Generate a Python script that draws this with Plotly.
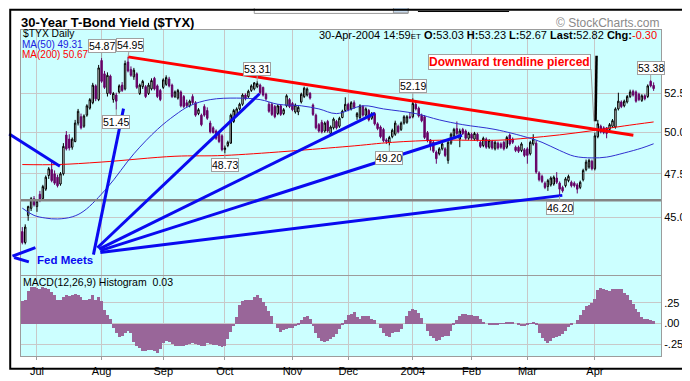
import math
import plotly.graph_objects as go

# ---------------- data ----------------
# trading-day index: 0 = 1-Jul-2003, -5 = 24-Jun-2003, 210 = 30-Apr-2004
day_index = list(range(-5, 211))

open_ = [
    44.20, 43.60, 45.10, 45.50, 46.05, 45.60, 46.30, 46.05, 46.60, 47.40,
    47.75, 47.50, 47.30, 46.90, 47.50, 49.85, 49.60, 49.10, 49.45, 50.60,
    51.00, 50.40, 51.10, 51.55, 51.90, 53.00, 52.10, 54.70, 53.80, 52.50,
    53.65, 52.10, 52.40, 52.60, 53.05, 52.80, 54.60, 54.10, 53.60, 53.80,
    52.50, 52.95, 52.95, 52.50, 52.80, 53.50, 53.00, 52.70, 52.90, 53.10,
    53.45, 53.05, 52.30, 52.20, 52.60, 52.30, 51.90, 51.70, 52.30, 51.90,
    51.20, 51.10, 51.65, 51.40, 50.60, 50.30, 50.10, 49.95, 49.80, 48.95,
    49.20, 49.35, 50.70, 51.10, 51.50, 51.80, 52.40, 52.30, 52.70, 52.80,
    52.95, 53.05, 52.90, 52.45, 51.80, 51.80, 51.65, 51.20, 51.70, 51.20,
    51.70, 52.10, 51.85, 51.30, 51.30, 51.95, 52.30, 52.40, 52.50, 51.75,
    51.10, 50.50, 50.65, 50.10, 50.70, 49.95, 50.30, 50.70, 50.40, 50.95,
    51.40, 51.80, 51.50, 51.90, 51.00, 50.95, 51.65, 51.10, 51.40, 50.90,
    51.20, 50.55, 50.35, 50.20, 49.55, 49.40, 49.75, 49.90, 50.40, 50.20,
    50.60, 50.65, 51.00, 51.00, 51.80, 51.55, 51.10, 51.00, 50.00, 49.55,
    49.40, 48.80, 48.70, 49.00, 49.00, 48.30, 49.35, 49.80, 50.25, 49.60,
    50.20, 50.10, 49.65, 49.90, 49.60, 49.90, 49.40, 49.20, 49.60, 49.10,
    49.45, 49.00, 49.35, 49.30, 49.40, 49.10, 49.85, 49.60, 49.10, 49.10,
    48.90, 48.95, 49.00, 48.70, 49.30, 49.35, 47.55, 47.35, 46.95, 46.75,
    46.85, 46.90, 47.25, 46.95, 46.70, 46.80, 47.10, 47.00, 46.95, 46.85,
    46.70, 47.15, 47.75, 47.90, 48.25, 47.80, 49.75, 50.40, 50.30, 50.30,
    50.20, 50.40, 50.35, 51.50, 51.95, 51.70, 51.95, 52.30, 52.65, 52.60,
    52.45, 52.05, 52.35, 52.30, 53.30, 53.03]

high = [
    44.45, 44.60, 45.65, 46.15, 46.20, 46.00, 46.50, 46.85, 47.40, 47.90,
    48.20, 47.70, 47.45, 47.60, 49.35, 50.10, 49.90, 49.70, 50.80, 51.50,
    51.20, 51.15, 51.80, 52.20, 53.20, 53.10, 54.40, 54.87, 54.00, 53.90,
    53.75, 52.60, 52.55, 53.10, 53.25, 54.70, 54.95, 54.30, 54.20, 53.90,
    53.15, 53.40, 53.05, 53.20, 53.50, 53.60, 53.10, 52.80, 53.50, 53.70,
    53.60, 53.15, 52.70, 52.80, 52.70, 52.40, 52.10, 52.10, 52.45, 52.00,
    51.55, 51.20, 51.80, 51.60, 50.75, 50.40, 50.20, 50.10, 49.90, 49.20,
    49.50, 51.20, 51.50, 51.60, 51.90, 52.50, 52.50, 52.75, 53.10, 53.25,
    53.31, 53.15, 52.95, 52.55, 51.95, 51.90, 51.75, 51.80, 51.80, 51.55,
    52.45, 52.20, 51.95, 51.85, 51.70, 52.55, 52.95, 52.90, 52.60, 51.85,
    51.20, 50.60, 50.80, 50.70, 50.80, 50.45, 50.95, 50.80, 51.00, 51.45,
    52.25, 51.90, 52.00, 52.05, 51.30, 51.80, 51.75, 51.60, 51.50, 51.30,
    51.30, 50.65, 50.45, 50.30, 49.65, 49.80, 50.25, 50.75, 50.50, 50.70,
    51.10, 51.10, 51.30, 52.19, 51.95, 51.65, 51.20, 51.10, 50.10, 49.60,
    49.50, 48.90, 49.10, 49.40, 49.10, 49.50, 50.00, 50.30, 50.70, 50.25,
    50.30, 50.20, 50.05, 50.00, 50.05, 50.00, 49.50, 49.75, 49.70, 49.60,
    49.55, 49.50, 49.45, 49.40, 49.50, 49.80, 49.95, 49.70, 49.20, 49.20,
    49.40, 49.05, 49.10, 49.50, 49.90, 49.50, 47.65, 47.45, 47.05, 47.20,
    47.35, 47.40, 47.60, 47.05, 46.80, 47.30, 47.45, 47.10, 47.05, 46.95,
    47.10, 47.80, 48.35, 48.40, 48.35, 50.00, 50.80, 50.50, 50.40, 50.35,
    50.60, 50.85, 51.60, 52.55, 52.05, 52.10, 52.40, 52.75, 52.75, 52.70,
    52.55, 52.45, 52.45, 53.10, 53.38, 53.23]

low = [
    43.50, 43.50, 44.80, 45.35, 45.60, 45.30, 45.85, 45.95, 46.50, 47.20,
    47.00, 46.85, 46.70, 46.80, 47.40, 48.90, 48.90, 48.95, 49.40, 50.45,
    50.20, 50.30, 51.00, 51.45, 51.80, 52.00, 52.00, 53.20, 52.80, 52.30,
    52.40, 51.90, 51.45, 52.50, 52.60, 52.70, 53.90, 53.60, 53.40, 52.80,
    52.40, 52.80, 52.20, 52.40, 52.70, 52.70, 52.20, 52.00, 52.80, 53.00,
    52.90, 52.20, 52.20, 52.10, 51.60, 51.55, 51.60, 51.60, 51.80, 51.00,
    51.10, 50.40, 51.00, 50.80, 49.95, 49.95, 49.55, 49.35, 48.85, 48.73,
    49.10, 49.30, 50.60, 51.00, 51.40, 51.70, 52.05, 52.20, 52.60, 52.70,
    52.85, 52.45, 52.30, 52.05, 51.25, 51.05, 50.90, 51.10, 51.05, 51.10,
    51.60, 51.55, 51.35, 51.20, 51.10, 51.85, 52.20, 52.30, 52.10, 51.05,
    50.20, 50.00, 49.95, 50.00, 50.00, 49.85, 50.20, 50.20, 50.30, 50.90,
    51.30, 51.35, 51.40, 51.50, 50.80, 50.85, 51.00, 51.00, 50.70, 50.80,
    50.45, 50.15, 49.65, 49.40, 49.30, 49.20, 49.65, 49.80, 49.95, 50.10,
    50.50, 50.55, 50.85, 50.90, 51.40, 50.95, 50.65, 49.60, 49.40, 48.90,
    48.75, 48.10, 48.60, 48.90, 48.50, 48.10, 49.25, 49.70, 49.85, 49.10,
    49.85, 49.55, 49.55, 49.55, 49.50, 49.45, 49.05, 49.10, 49.00, 49.00,
    48.95, 48.90, 48.95, 49.00, 48.90, 49.00, 49.20, 49.30, 48.80, 48.75,
    48.80, 48.50, 48.10, 48.60, 49.20, 47.50, 47.05, 46.95, 46.60, 46.50,
    46.75, 46.80, 46.90, 46.20, 46.40, 46.70, 47.00, 46.70, 46.70, 46.35,
    46.60, 47.05, 47.65, 47.80, 47.70, 47.70, 49.65, 49.95, 49.90, 49.65,
    50.10, 50.30, 50.25, 51.40, 51.55, 51.60, 51.85, 52.20, 52.30, 51.90,
    52.00, 51.95, 52.05, 52.20, 52.90, 52.67]

close = [
    43.60, 44.45, 45.60, 46.05, 45.70, 45.90, 45.95, 46.75, 47.30, 47.80,
    47.10, 46.95, 46.80, 47.50, 49.15, 49.00, 49.05, 49.60, 50.60, 51.35,
    50.30, 51.05, 51.70, 52.10, 53.05, 52.15, 54.20, 53.30, 52.90, 53.70,
    52.50, 52.50, 52.00, 53.00, 52.70, 54.50, 54.00, 53.70, 54.05, 52.90,
    53.05, 53.30, 52.30, 53.05, 53.35, 52.80, 52.30, 52.10, 53.40, 53.55,
    53.00, 52.30, 52.60, 52.70, 51.70, 51.65, 51.70, 52.00, 51.90, 51.10,
    51.45, 50.50, 51.10, 50.90, 50.05, 50.00, 49.65, 49.45, 48.95, 49.05,
    49.40, 51.10, 51.40, 51.50, 51.80, 52.40, 52.15, 52.65, 53.00, 53.20,
    53.15, 52.55, 52.40, 52.15, 51.35, 51.15, 51.00, 51.70, 51.15, 51.45,
    52.35, 51.65, 51.45, 51.75, 51.60, 52.45, 52.85, 52.80, 52.20, 51.15,
    50.30, 50.10, 50.05, 50.60, 50.10, 50.35, 50.85, 50.30, 50.90, 51.35,
    51.80, 51.45, 51.90, 51.60, 51.20, 51.70, 51.10, 51.50, 50.80, 51.20,
    50.55, 50.25, 49.75, 49.50, 49.45, 49.70, 50.15, 50.60, 50.05, 50.60,
    51.00, 51.00, 50.95, 51.85, 51.50, 51.05, 50.75, 49.70, 49.50, 49.20,
    48.85, 48.40, 49.00, 49.30, 48.60, 49.40, 49.90, 50.20, 49.95, 50.10,
    49.95, 49.65, 49.95, 49.65, 49.95, 49.55, 49.15, 49.65, 49.10, 49.50,
    49.05, 49.40, 49.05, 49.10, 49.00, 49.70, 49.30, 49.40, 48.90, 48.85,
    49.30, 48.60, 48.60, 49.40, 49.60, 47.60, 47.15, 47.05, 46.70, 47.10,
    47.25, 47.30, 47.00, 46.60, 46.50, 47.20, 47.35, 46.80, 46.80, 46.60,
    47.00, 47.70, 48.20, 48.30, 47.80, 49.80, 50.55, 50.05, 50.00, 49.95,
    50.50, 50.75, 51.50, 52.00, 51.65, 52.00, 52.30, 52.60, 52.40, 52.00,
    52.10, 52.35, 52.15, 53.00, 53.00, 52.82]

macd_hist = [
    0.27, 0.29, 0.40, 0.44, 0.44, 0.43, 0.42, 0.44, 0.43, 0.42,
    0.38, 0.34, 0.29, 0.28, 0.32, 0.34, 0.33, 0.34, 0.36, 0.34,
    0.32, 0.29, 0.28, 0.30, 0.34, 0.29, 0.32, 0.27, 0.16, 0.10,
    0.05, -0.05, -0.12, -0.165, -0.15, -0.11, -0.085, -0.11, -0.22, -0.27,
    -0.29, -0.33, -0.33, -0.325, -0.325, -0.335, -0.35, -0.31, -0.24, -0.215,
    -0.22, -0.25, -0.27, -0.275, -0.27, -0.267, -0.26, -0.25, -0.23, -0.25,
    -0.265, -0.275, -0.27, -0.24, -0.25, -0.26, -0.265, -0.27, -0.285, -0.27,
    -0.19, -0.10, -0.03, 0.08, 0.22, 0.275, 0.28, 0.28, 0.29, 0.32,
    0.345, 0.31, 0.26, 0.21, 0.15, 0.095, 0.00, -0.05, -0.10, -0.08,
    -0.065, -0.057, -0.05, -0.03, -0.01, 0.04, 0.075, 0.096, 0.06, -0.03,
    -0.12, -0.18, -0.21, -0.218, -0.21, -0.19, -0.16, -0.13, -0.06, -0.02,
    0.04, 0.10, 0.115, 0.135, 0.08, 0.057, 0.09, 0.096, 0.09, 0.06,
    0.04, 0.00, -0.05, -0.115, -0.155, -0.165, -0.11, -0.10, -0.10, -0.06,
    0.00, 0.09, 0.15, 0.172, 0.165, 0.13, 0.07, 0.00, -0.09, -0.15,
    -0.18, -0.21, -0.20, -0.165, -0.155, -0.15, -0.09, -0.02, 0.04, 0.095,
    0.11, 0.115, 0.108, 0.10, 0.097, 0.09, 0.06, 0.025, 0.00, -0.01,
    -0.01, -0.01, -0.01, -0.005, 0.005, 0.01, 0.02, 0.015, 0.00, -0.01,
    -0.025, -0.03, -0.015, 0.005, 0.008, -0.02, -0.12, -0.17, -0.21, -0.23,
    -0.21, -0.18, -0.165, -0.155, -0.13, -0.095, -0.04, -0.02, 0.00, 0.04,
    0.10, 0.17, 0.215, 0.23, 0.25, 0.30, 0.41, 0.43, 0.42, 0.41,
    0.40, 0.415, 0.42, 0.42, 0.415, 0.37, 0.34, 0.29, 0.235, 0.18,
    0.135, 0.08, 0.055, 0.05, 0.045, 0.03]

ma50_idx = [-5, -1, 3, 7, 12, 16, 24, 33, 41, 47, 52, 59, 68, 76, 82, 90, 96,
            102, 111, 118, 129, 137, 145, 156, 167, 172, 178, 183, 189, 194,
            200, 206, 210]
ma50_val = [45.51, 45.10, 44.95, 44.90, 45.02, 45.35, 46.70, 48.70, 50.20,
            51.10, 51.70, 52.10, 52.20, 52.10, 51.80, 51.70, 51.50, 51.20,
            51.70, 51.50, 51.20, 50.80, 50.50, 50.20, 49.70, 49.40, 48.90,
            48.55, 48.45, 48.50, 48.75, 49.05, 49.31]

ma200_idx = [-5, 7, 22, 47, 64, 106, 121, 137, 157, 167, 178, 189, 200, 210]
ma200_val = [48.05, 48.05, 48.20, 48.55, 48.60, 49.15, 49.40, 49.53, 49.53,
             49.66, 49.86, 50.12, 50.42, 50.67]

month_idx = [0, 22, 43, 64, 87, 106, 128, 148, 167, 190]
month_lbl = ["Jul", "Aug", "Sep", "Oct", "Nov", "Dec", "2004", "Feb", "Mar", "Apr"]

price_ticks = [45.0, 47.5, 50.0, 52.5]
macd_ticks = [-0.25, 0.0, 0.25]
macd_tick_lbl = ["-.25", ".00", ".25"]

# labelled highs / lows (index, value)
high_lbl_idx = [22, 31, 75, 128, 209]
high_lbl_val = [54.87, 54.95, 53.31, 52.19, 53.38]
low_lbl_idx = [27, 64, 120, 178]
low_lbl_val = [51.45, 48.73, 49.20, 46.20]

# drawn trendline (red) and support line (grey)
trend_idx = [31, 203.1]
trend_val = [54.95, 49.84]
support_val = 45.96

# "Fed Meets" lines: start/end (index, value)
fed_x0 = [19.23, 20.57, 21.13, 21.57, 21.57]
fed_v0 = [42.95, 43.32, 43.24, 43.16, 43.06]
fed_x1 = [29.47, 75.8, 115.0, 144.73, 178.9]
fed_v1 = [51.52, 52.48, 51.21, 49.84, 46.24]

# callout tail for "Downward trendline pierced"
tail_dark_idx = [190.57, 190.23]
tail_dark_val = [55.02, 50.71]
tail_light_idx = [188.67, 189.67]
tail_light_val = [54.12, 50.71]

# ---------------- layout geometry ----------------
FONT = "Liberation Sans, Arial, Helvetica, sans-serif"
W, H = 690, 381
ML, MR, MT, MB = 12, 25, 22, 15
PW, PH = W - ML - MR, H - MT - MB


def pxx(x):
    return (x - ML) / PW


def pxy(y):
    return (H - MB - y) / PH


PX_PER_DAY = 2.996
X0_PIX = 28.3
x_range = [(ML - X0_PIX) / PX_PER_DAY, (W - MR - X0_PIX) / PX_PER_DAY]
price_range = [1.62194, 1.75451]
macd_range = [-0.3933, 0.5757]
price_dom = [pxy(280.5), 1.0]
macd_dom = [0.0, pxy(281.5)]

GRID = "#C8C8C8"
FRAME = "#9C9C9C"
BG = "#CCFFFF"
BLUE = "#0A0AF0"

fig = go.Figure()

fig.add_trace(go.Bar(x=day_index, y=macd_hist, width=1.0,
                     marker=dict(color="#996699", line=dict(width=0)),
                     xaxis="x2", yaxis="y2", showlegend=False, hoverinfo="skip"))

fig.add_trace(go.Scatter(x=ma200_idx, y=ma200_val, mode="lines",
                         line=dict(color="#FF0000", width=1, shape="spline"),
                         xaxis="x", yaxis="y", showlegend=False, hoverinfo="skip"))
fig.add_trace(go.Scatter(x=ma50_idx, y=ma50_val, mode="lines",
                         line=dict(color="#3030D0", width=1, shape="spline"),
                         xaxis="x", yaxis="y", showlegend=False, hoverinfo="skip"))

fig.add_trace(go.Candlestick(
    x=day_index, open=open_, high=high, low=low, close=close,
    increasing=dict(line=dict(color="black", width=1), fillcolor="white"),
    decreasing=dict(line=dict(color="#660066", width=1), fillcolor="#660066"),
    whiskerwidth=0, xaxis="x", yaxis="y", showlegend=False, hoverinfo="skip"))

fig.add_trace(go.Scatter(x=[x_range[0] - 2, x_range[1] + 2], y=[support_val, support_val],
                         mode="lines", line=dict(color="#858585", width=2.5),
                         xaxis="x", yaxis="y", showlegend=False, hoverinfo="skip"))

fig.add_trace(go.Scatter(x=trend_idx, y=trend_val, mode="lines",
                         line=dict(color="#FF0000", width=3),
                         xaxis="x", yaxis="y", showlegend=False, hoverinfo="skip"))

for a, b, c, d in zip(fed_x0, fed_v0, fed_x1, fed_v1):
    fig.add_trace(go.Scatter(x=[a, c], y=[b, d], mode="lines",
                             line=dict(color=BLUE, width=3),
                             xaxis="x", yaxis="y", showlegend=False, hoverinfo="skip"))

fig.add_trace(go.Scatter(x=tail_light_idx, y=tail_light_val, mode="lines",
                         line=dict(color="#A0A0A0", width=1),
                         xaxis="x", yaxis="y", showlegend=False, hoverinfo="skip"))
fig.add_trace(go.Scatter(x=tail_dark_idx, y=tail_dark_val, mode="lines",
                         line=dict(color="black", width=2.5),
                         xaxis="x", yaxis="y", showlegend=False, hoverinfo="skip"))

ann = []


def txt(x, y, text, size=10.5, color="black", xanchor="left", bold=False):
    if bold:
        text = "<b>" + text + "</b>"
    ann.append(dict(x=pxx(x), y=pxy(y), xref="paper", yref="paper", text=text,
                    showarrow=False, xanchor=xanchor, yanchor="middle", borderpad=0,
                    font=dict(family=FONT, size=size, color=color)))


txt(11, 14.5, "30-Year T-Bond Yield ($TYX)", size=13, bold=True)
txt(557, 15, "© StockCharts.com", size=12, color="#8A8A8A")
txt(13, 25.8, "$TYX Daily", size=10.3)
txt(12.5, 37, "MA(50) 49.31", size=10, color="#2020E0")
txt(12.5, 47.5, "MA(200) 50.67", size=10, color="#FF0000")
header = ("30-Apr-2004 14:59<span style='font-size:8px'>ET</span> "
          "<b>O:</b>53.03 <b>H:</b>53.23 <b>L:</b>52.67 "
          "<b>Last:</b>52.82 <b>Chg:</b><span style='color:#FF0000'>-0.30</span>")
txt(662, 27, header, size=11, xanchor="right")
txt(13, 287.5, "MACD(12,26,9) Histogram  0.03")
txt(56.5, 265, "Fed Meets", size=11.5, color=BLUE, xanchor="center", bold=True)

ann.append(dict(x=pxx(510), y=pxy(55.5), xref="paper", yref="paper",
                text="<b>Downward trendline pierced</b>", showarrow=False,
                xanchor="center", yanchor="middle", bgcolor="white",
                bordercolor="#A0A0A0", borderwidth=1, borderpad=0,
                font=dict(family=FONT, size=12, color="#FF0000")))

high_shift = [0, 2, 0, 0, 0]
for (i, v), dx in zip(zip(high_lbl_idx, high_lbl_val), high_shift):
    ann.append(dict(x=i, y=math.log10(v), xref="x", yref="y", text=f"{v:.2f}",
                    showarrow=True, arrowhead=0, arrowwidth=1, arrowcolor="#A0A0A0",
                    ax=dx, ay=-12, standoff=0, bgcolor="white", bordercolor="#A0A0A0",
                    borderwidth=1, borderpad=0,
                    font=dict(family=FONT, size=10.5, color="black")))
for i, v in zip(low_lbl_idx, low_lbl_val):
    ann.append(dict(x=i, y=math.log10(v), xref="x", yref="y", text=f"{v:.2f}",
                    showarrow=True, arrowhead=0, arrowwidth=1, arrowcolor="#A0A0A0",
                    ax=0, ay=12, standoff=0, bgcolor="white", bordercolor="#A0A0A0",
                    borderwidth=1, borderpad=0,
                    font=dict(family=FONT, size=10.5, color="black")))

shapes = []
# blue pointer lines partly outside the chart panel (page decoration)
off_panel = [((0, 131.7), (51.7, 165.7)), ((3.3, 260.7), (26.7, 251.7)), ((5, 262), (20, 266.7))]
for (xa, ya), (xb, yb) in off_panel:
    shapes.append(dict(type="line", xref="paper", yref="paper", x0=pxx(xa), y0=pxy(ya),
                       x1=pxx(xb), y1=pxy(yb), line=dict(color=BLUE, width=3)))
# page fragments at the top edge
shapes.append(dict(type="rect", xref="paper", yref="paper", x0=pxx(250), x1=pxx(407),
                   y0=pxy(4.5), y1=pxy(-3), line=dict(color="#9A9A9A", width=1),
                   fillcolor="white"))
shapes.append(dict(type="rect", xref="paper", yref="paper", x0=pxx(392), x1=pxx(407),
                   y0=pxy(4), y1=pxy(-3), line=dict(color="#9A9A9A", width=1),
                   fillcolor="#C8DCF0"))
shapes.append(dict(type="line", xref="paper", yref="paper", x0=pxx(417), x1=pxx(510),
                   y0=pxy(2.5), y1=pxy(2.5), line=dict(color="black", width=1)))
# outer frame
shapes.append(dict(type="rect", xref="paper", yref="paper", x0=pxx(1), x1=pxx(689),
                   y0=pxy(379.5), y1=pxy(0.5), line=dict(color="black", width=2)))

axis_common = dict(showgrid=True, gridcolor=GRID, gridwidth=1, zeroline=False,
                   showline=True, linecolor=FRAME, linewidth=1, mirror=True)

fig.update_layout(
    width=W, height=H,
    margin=dict(l=ML, r=MR, t=MT, b=MB, pad=0),
    paper_bgcolor="white", plot_bgcolor=BG,
    font=dict(family=FONT, size=11, color="black"),
    bargap=0, showlegend=False,
    xaxis=dict(domain=[0, 1], anchor="y", range=x_range, tickmode="array",
               tickvals=month_idx, ticktext=month_lbl, showticklabels=False,
               ticks="", rangeslider=dict(visible=False), **axis_common),
    xaxis2=dict(domain=[0, 1], anchor="y2", range=x_range, matches="x", tickmode="array",
                tickvals=month_idx, ticktext=month_lbl, showticklabels=True,
                ticks="outside", ticklen=3, tickcolor=FRAME, ticklabelstandoff=2,
                tickfont=dict(family=FONT, size=11, color="black"), **axis_common),
    yaxis=dict(domain=price_dom, anchor="x", type="log", range=price_range, side="right",
               tickmode="array", tickvals=price_ticks,
               ticktext=[f"{t:.1f}" for t in price_ticks], ticks="",
               tickfont=dict(family=FONT, size=11, color="black"), **axis_common),
    yaxis2=dict(domain=macd_dom, anchor="x2", range=macd_range, side="right",
                tickmode="array", tickvals=macd_ticks, ticktext=macd_tick_lbl, ticks="",
                tickfont=dict(family=FONT, size=11, color="black"), **axis_common),
    annotations=ann, shapes=shapes,
)

fig.write_html("out.html", config=dict(displayModeBar=False))
